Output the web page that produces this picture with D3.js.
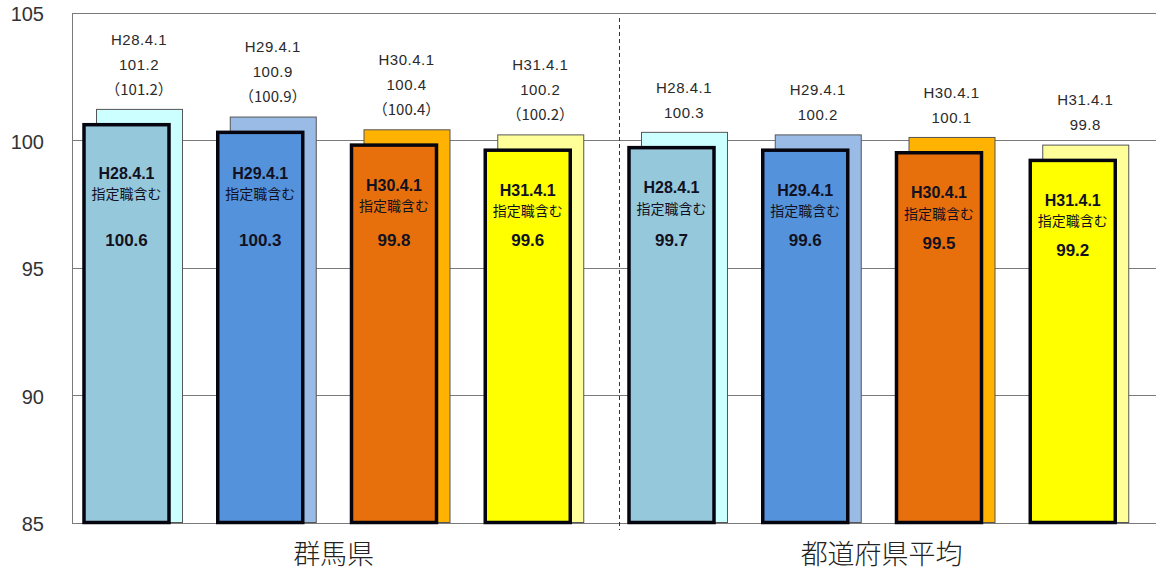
<!DOCTYPE html>
<html>
<head>
<meta charset="utf-8">
<script src="https://cdn.jsdelivr.net/npm/d3@7"></script>
<style>
  html, body { margin: 0; padding: 0; background: #fff; }
  svg { display: block; }
</style>
</head>
<body>
<svg id="chart" width="1156" height="573"></svg>
<script>
// Ratios (index = 100) per survey date, for Gunma and the national prefectural average
const groups = ["群馬県", "都道府県平均"];
const periods = ["H28.4.1", "H29.4.1", "H30.4.1", "H31.4.1"];
const gunmaBase = [101.2, 100.9, 100.4, 100.2];
const gunmaBaseParen = [101.2, 100.9, 100.4, 100.2];
const gunmaIncl = [100.6, 100.3, 99.8, 99.6];
const avgBase = [100.3, 100.2, 100.1, 99.8];
const avgIncl = [99.7, 99.6, 99.5, 99.2];
const yTicks = [85, 90, 95, 100, 105];
const inclLabel = "指定職含む";

// colours per survey date: back bar / front bar
const backColors = ["#CCFFFF", "#99BBE6", "#FFB200", "#FFFF99"];
const frontColors = ["#96C8DC", "#5592DC", "#E8700C", "#FFFF00"];

// flat list of the eight slots
const slots = [];
groups.forEach((g, gi) => {
  periods.forEach((p, pi) => {
    slots.push({
      group: gi,
      period: pi,
      base: gi === 0 ? gunmaBase[pi] : avgBase[pi],
      paren: gi === 0 ? gunmaBaseParen[pi] : null,
      incl: gi === 0 ? gunmaIncl[pi] : avgIncl[pi]
    });
  });
});

const svg = d3.select("#chart");
const plotLeft = 72, plotTop = 12.5, plotBottom = 522.5;

const y = d3.scaleLinear().domain([85, 105]).range([plotBottom, plotTop]);
// outer band per region, inner band per survey date
const xGroup = d3.scaleBand().domain(d3.range(groups.length)).range([plotLeft, plotLeft + 1090]).padding(0);
const xPeriod = d3.scaleBand().domain(d3.range(periods.length)).range([0, 535]).padding(0);
const slotX = d => xGroup(d.group) + xPeriod(d.period);

// gridlines
svg.append("g")
  .selectAll("line")
  .data(yTicks)
  .join("line")
  .attr("x1", plotLeft).attr("x2", 1156)
  .attr("y1", d => Math.round(y(d)) + 0.5).attr("y2", d => Math.round(y(d)) + 0.5)
  .attr("stroke", "#7a7a7a").attr("stroke-width", 1);

// left axis line
svg.append("line")
  .attr("x1", plotLeft + 0.5).attr("x2", plotLeft + 0.5)
  .attr("y1", Math.round(y(105)) + 0.5).attr("y2", Math.round(y(85)) + 0.5)
  .attr("stroke", "#7a7a7a");

// y axis labels
const yAxis = d3.axisLeft(y).tickValues(yTicks).tickSize(0).tickPadding(28);
const ya = svg.append("g").attr("transform", `translate(${plotLeft},0)`).call(yAxis);
ya.select(".domain").remove();
ya.selectAll("text")
  .attr("font-family", "Liberation Sans, Arial, sans-serif")
  .attr("font-size", 20)
  .attr("fill", "#333")
  .attr("dy", "0.4em");

// region separator
const sepX = xGroup(1) + 2.5;
svg.append("line")
  .attr("x1", sepX).attr("x2", sepX)
  .attr("y1", 18).attr("y2", 530)
  .attr("stroke", "#333").attr("stroke-width", 1)
  .attr("stroke-dasharray", "4,3");

const frontOff = 12, frontW = 85, backOff = 24, backW = 86;

const slotG = svg.append("g").selectAll("g")
  .data(slots)
  .join("g");

// back bars
slotG.append("rect")
  .attr("x", d => slotX(d) + backOff + 0.5)
  .attr("y", d => y(d.base))
  .attr("width", backW)
  .attr("height", d => y(85) - y(d.base))
  .attr("fill", d => backColors[d.period])
  .attr("stroke", "#555").attr("stroke-width", 1);

// front bars (指定職含む)
slotG.append("rect")
  .attr("x", d => slotX(d) + frontOff)
  .attr("y", d => y(d.incl))
  .attr("width", frontW)
  .attr("height", d => y(85) - y(d.incl))
  .attr("fill", d => frontColors[d.period])
  .attr("stroke", "#05050f").attr("stroke-width", 3.5);

const sansFont = "Liberation Sans, Arial, sans-serif";
const cjkFont = "Noto Sans CJK JP, sans-serif";

slotG.each(function(d) {
  const g = d3.select(this);
  // labels above back bars
  const cx = slotX(d) + backOff + backW / 2;
  const ty = y(d.base);
  const lines = [periods[d.period], d3.format(".1f")(d.base)];
  if (d.paren !== null) lines.push("（" + d3.format(".1f")(d.paren) + "）");
  const n = lines.length;
  lines.forEach((t, k) => {
    g.append("text")
      .attr("x", cx)
      .attr("y", ty - 20 - (n - 1 - k) * 25)
      .attr("dy", "0.35em")
      .attr("text-anchor", "middle")
      .attr("font-family", k === 2 ? cjkFont : sansFont)
      .attr("font-size", 15)
      .attr("letter-spacing", k === 2 ? 0 : 0.5)
      .attr("fill", "#2a2a2a")
      .text(t);
  });

  // labels inside front bars
  const fx = slotX(d) + frontOff + frontW / 2;
  const fy = y(d.incl);
  const t1 = Math.max(173, fy + 40);
  g.append("text")
    .attr("x", fx).attr("y", t1).attr("dy", "0.35em")
    .attr("text-anchor", "middle")
    .attr("font-family", sansFont).attr("font-weight", "bold")
    .attr("font-size", 16).attr("fill", "#111122")
    .text(periods[d.period]);
  g.append("text")
    .attr("x", fx).attr("y", t1 + 21).attr("dy", "0.35em")
    .attr("text-anchor", "middle")
    .attr("font-family", cjkFont)
    .attr("font-size", 14).attr("fill", "#111122")
    .text(inclLabel);
  g.append("text")
    .attr("x", fx).attr("y", Math.max(240, fy + 90)).attr("dy", "0.35em")
    .attr("text-anchor", "middle")
    .attr("font-family", sansFont).attr("font-weight", "bold")
    .attr("font-size", 17).attr("fill", "#111122")
    .text(d3.format(".1f")(d.incl));
});

// region labels
svg.append("g")
  .selectAll("text")
  .data(groups)
  .join("text")
  .attr("x", (d, gi) => xGroup(gi) + frontOff + (xPeriod(3) + backOff + backW - frontOff) / 2 + gi * 3)
  .attr("y", 555)
  .attr("dy", "0.35em")
  .attr("text-anchor", "middle")
  .attr("font-family", cjkFont)
  .attr("font-weight", 300)
  .attr("font-size", 27)
  .attr("fill", "#222")
  .text(d => d);
</script>
</body>
</html>
